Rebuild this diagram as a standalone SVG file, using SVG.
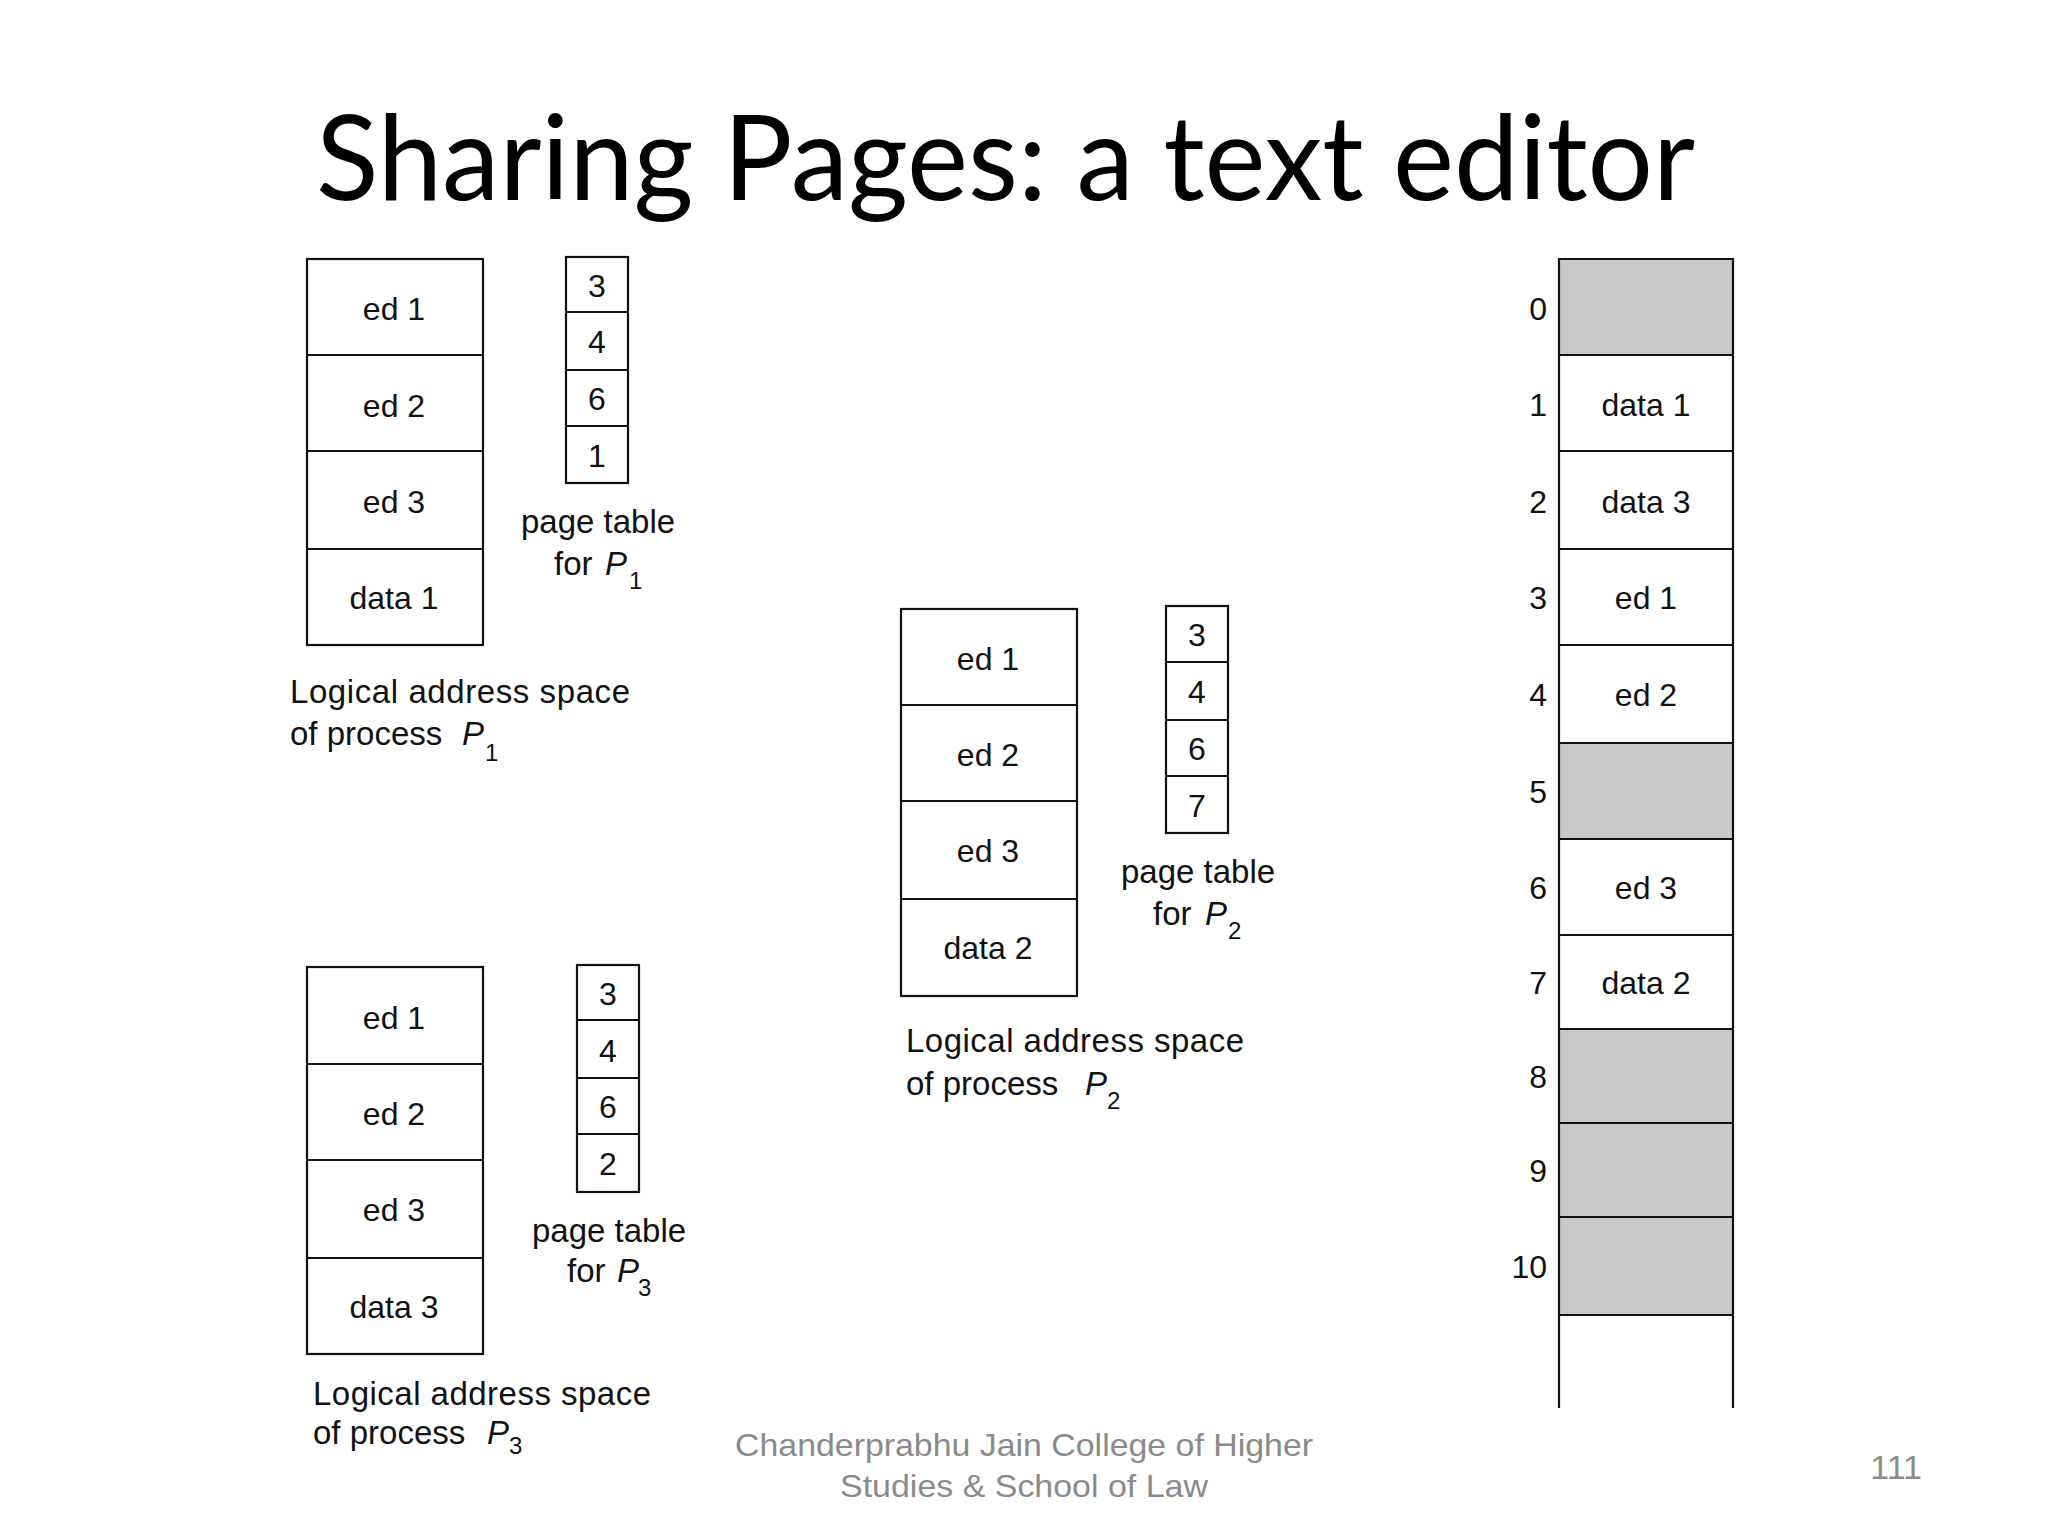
<svg xmlns="http://www.w3.org/2000/svg" width="2048" height="1536" viewBox="0 0 2048 1536">
<style>
.box{fill:#ffffff;stroke:#111111;stroke-width:2.2}
.ln{stroke:#111111;stroke-width:2.2;fill:none}
.gray{fill:#c9c9c9}
.cell{font-family:"Liberation Sans",Arial,sans-serif;font-size:32px;fill:#111111;text-anchor:middle}
.num{font-family:"Liberation Sans",Arial,sans-serif;font-size:32px;fill:#111111;text-anchor:end}
.lbl{font-family:"Liberation Sans",Arial,sans-serif;font-size:33px;fill:#111111}
.mid{text-anchor:middle}
.it{font-style:italic}
.sub{font-size:24px}
.title{font-family:Lato,"Open Sans",sans-serif;font-size:118px;fill:#000000}
.foot{font-family:"Liberation Sans",Arial,sans-serif;font-size:32px;fill:#8a8a8a}
</style>
<rect width="2048" height="1536" fill="#ffffff"/>
<text class="title" x="316" y="200" textLength="1379" lengthAdjust="spacingAndGlyphs">Sharing Pages: a text editor</text>

<g id="p1-logical">
<rect class="box" x="307" y="259" width="176" height="386"/>
<line class="ln" x1="307" y1="355" x2="483" y2="355"/>
<line class="ln" x1="307" y1="451" x2="483" y2="451"/>
<line class="ln" x1="307" y1="549" x2="483" y2="549"/>
<text class="cell" x="394" y="320">ed 1</text>
<text class="cell" x="394" y="417">ed 2</text>
<text class="cell" x="394" y="513">ed 3</text>
<text class="cell" x="394" y="609">data 1</text>
<text class="lbl" x="290" y="703" textLength="340" lengthAdjust="spacing">Logical address space</text>
<text class="lbl" x="290" y="745">of process <tspan class="it" x="462">P</tspan><tspan class="sub" x="485" dy="16">1</tspan></text>
</g>

<g id="p1-table">
<rect class="box" x="566" y="257" width="62" height="226"/>
<line class="ln" x1="566" y1="312" x2="628" y2="312"/>
<line class="ln" x1="566" y1="370" x2="628" y2="370"/>
<line class="ln" x1="566" y1="426" x2="628" y2="426"/>
<text class="cell" x="597" y="297">3</text>
<text class="cell" x="597" y="353">4</text>
<text class="cell" x="597" y="410">6</text>
<text class="cell" x="597" y="467">1</text>
<text class="lbl mid" x="598" y="533">page table</text>
<text class="lbl" x="554" y="575">for <tspan class="it" x="605">P</tspan><tspan class="sub" x="629" dy="14">1</tspan></text>
</g>

<g id="p2-logical">
<rect class="box" x="901" y="609" width="176" height="387"/>
<line class="ln" x1="901" y1="705" x2="1077" y2="705"/>
<line class="ln" x1="901" y1="801" x2="1077" y2="801"/>
<line class="ln" x1="901" y1="899" x2="1077" y2="899"/>
<text class="cell" x="988" y="670">ed 1</text>
<text class="cell" x="988" y="766">ed 2</text>
<text class="cell" x="988" y="862">ed 3</text>
<text class="cell" x="988" y="959">data 2</text>
<text class="lbl" x="906" y="1052" textLength="338" lengthAdjust="spacing">Logical address space</text>
<text class="lbl" x="906" y="1095">of process <tspan class="it" x="1085">P</tspan><tspan class="sub" x="1107" dy="14">2</tspan></text>
</g>

<g id="p2-table">
<rect class="box" x="1166" y="606" width="62" height="227"/>
<line class="ln" x1="1166" y1="662" x2="1228" y2="662"/>
<line class="ln" x1="1166" y1="720" x2="1228" y2="720"/>
<line class="ln" x1="1166" y1="776" x2="1228" y2="776"/>
<text class="cell" x="1197" y="646">3</text>
<text class="cell" x="1197" y="703">4</text>
<text class="cell" x="1197" y="760">6</text>
<text class="cell" x="1197" y="817">7</text>
<text class="lbl mid" x="1198" y="883">page table</text>
<text class="lbl" x="1153" y="925">for <tspan class="it" x="1205">P</tspan><tspan class="sub" x="1228" dy="14">2</tspan></text>
</g>

<g id="p3-logical">
<rect class="box" x="307" y="967" width="176" height="387"/>
<line class="ln" x1="307" y1="1064" x2="483" y2="1064"/>
<line class="ln" x1="307" y1="1160" x2="483" y2="1160"/>
<line class="ln" x1="307" y1="1258" x2="483" y2="1258"/>
<text class="cell" x="394" y="1029">ed 1</text>
<text class="cell" x="394" y="1125">ed 2</text>
<text class="cell" x="394" y="1221">ed 3</text>
<text class="cell" x="394" y="1318">data 3</text>
<text class="lbl" x="313" y="1405" textLength="338" lengthAdjust="spacing">Logical address space</text>
<text class="lbl" x="313" y="1444">of process <tspan class="it" x="487">P</tspan><tspan class="sub" x="509" dy="10">3</tspan></text>
</g>

<g id="p3-table">
<rect class="box" x="577" y="965" width="62" height="227"/>
<line class="ln" x1="577" y1="1020" x2="639" y2="1020"/>
<line class="ln" x1="577" y1="1078" x2="639" y2="1078"/>
<line class="ln" x1="577" y1="1134" x2="639" y2="1134"/>
<text class="cell" x="608" y="1005">3</text>
<text class="cell" x="608" y="1062">4</text>
<text class="cell" x="608" y="1118">6</text>
<text class="cell" x="608" y="1175">2</text>
<text class="lbl mid" x="609" y="1242">page table</text>
<text class="lbl" x="567" y="1282">for <tspan class="it" x="617">P</tspan><tspan class="sub" x="638" dy="14">3</tspan></text>
</g>

<g id="physical-memory">
<rect class="gray" x="1559" y="259" width="174" height="96"/>
<rect class="gray" x="1559" y="743" width="174" height="96"/>
<rect class="gray" x="1559" y="1029" width="174" height="286"/>
<line class="ln" x1="1559" y1="258" x2="1559" y2="1408"/>
<line class="ln" x1="1733" y1="258" x2="1733" y2="1408"/>
<line class="ln" x1="1559" y1="259" x2="1733" y2="259"/>
<line class="ln" x1="1559" y1="355" x2="1733" y2="355"/>
<line class="ln" x1="1559" y1="451" x2="1733" y2="451"/>
<line class="ln" x1="1559" y1="549" x2="1733" y2="549"/>
<line class="ln" x1="1559" y1="645" x2="1733" y2="645"/>
<line class="ln" x1="1559" y1="743" x2="1733" y2="743"/>
<line class="ln" x1="1559" y1="839" x2="1733" y2="839"/>
<line class="ln" x1="1559" y1="935" x2="1733" y2="935"/>
<line class="ln" x1="1559" y1="1029" x2="1733" y2="1029"/>
<line class="ln" x1="1559" y1="1123" x2="1733" y2="1123"/>
<line class="ln" x1="1559" y1="1217" x2="1733" y2="1217"/>
<line class="ln" x1="1559" y1="1315" x2="1733" y2="1315"/>
<text class="num" x="1547" y="320">0</text>
<text class="num" x="1547" y="416">1</text>
<text class="num" x="1547" y="513">2</text>
<text class="num" x="1547" y="609">3</text>
<text class="num" x="1547" y="706">4</text>
<text class="num" x="1547" y="803">5</text>
<text class="num" x="1547" y="899">6</text>
<text class="num" x="1547" y="994">7</text>
<text class="num" x="1547" y="1088">8</text>
<text class="num" x="1547" y="1182">9</text>
<text class="num" x="1547" y="1278">10</text>
<text class="cell" x="1646" y="416">data 1</text>
<text class="cell" x="1646" y="513">data 3</text>
<text class="cell" x="1646" y="609">ed 1</text>
<text class="cell" x="1646" y="706">ed 2</text>
<text class="cell" x="1646" y="899">ed 3</text>
<text class="cell" x="1646" y="994">data 2</text>
</g>

<g id="connectors"></g>

<g id="footer">
<text class="foot" x="1024" y="1456" text-anchor="middle" textLength="578" lengthAdjust="spacingAndGlyphs">Chanderprabhu Jain College of Higher</text>
<text class="foot" x="1024" y="1497" text-anchor="middle" textLength="368" lengthAdjust="spacingAndGlyphs">Studies &amp; School of Law</text>
<text class="foot" x="1922" y="1479" text-anchor="end" style="font-size:34px">111</text>
</g>
</svg>
